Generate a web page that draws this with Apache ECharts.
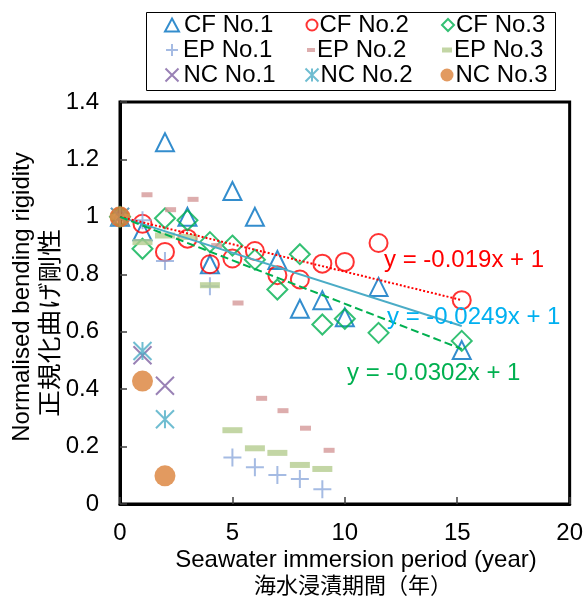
<!DOCTYPE html>
<html>
<head>
<meta charset="utf-8">
<script src="https://cdn.jsdelivr.net/npm/echarts@6/dist/echarts.min.js"></script>
<style>
html,body{margin:0;padding:0;background:#fff;}
#chart{width:586px;height:605px;}
</style>
</head>
<body>
<div id="chart"></div>
<script>
// ---------------- DATA ----------------
const seriesNames = ['CF No.1','CF No.2','CF No.3','EP No.1','EP No.2','EP No.3','NC No.1','NC No.2','NC No.3'];

const cf1X = [0, 1, 2, 3, 4, 5, 6, 7, 8, 9, 10, 11.5, 15.2];
const cf1Y = [1.0, 0.95, 1.26, 1.0, 0.835, 1.09, 1.0, 0.85, 0.68, 0.71, 0.65, 0.756, 0.536];
const cf2X = [0, 1, 2, 3, 4, 5, 6, 7, 8, 9, 10, 11.5, 15.2];
const cf2Y = [1.0, 0.976, 0.878, 0.924, 0.835, 0.855, 0.881, 0.797, 0.782, 0.837, 0.843, 0.909, 0.71];
const cf3X = [0, 1, 2, 3, 4, 5, 6, 7, 8, 9, 10, 11.5, 15.2];
const cf3Y = [1.0, 0.889, 0.995, 0.988, 0.912, 0.90, 0.851, 0.747, 0.87, 0.625, 0.645, 0.596, 0.568];

const ep1X = [0, 1, 2, 4, 5, 6, 7, 8, 9];
const ep1Y = [1.0, 0.988, 0.846, 0.758, 0.162, 0.128, 0.101, 0.087, 0.051];
const ep2X = [1.2, 2.25, 3.25, 4.3, 5.25, 6.3, 7.25, 8.25, 9.3];
const ep2Y = [1.077, 1.025, 1.061, 0.90, 0.70, 0.368, 0.325, 0.264, 0.187];
const ep3X = [0, 1, 2, 3, 4, 5, 6, 7, 8, 9];
const ep3Y = [1.0, 0.912, 0.935, 0.93, 0.762, 0.257, 0.194, 0.178, 0.136, 0.122];

const nc1X = [0, 1, 2];
const nc1Y = [1.0, 0.518, 0.412];
const nc2X = [0, 1, 2];
const nc2Y = [1.0, 0.533, 0.295];
const nc3X = [0, 1, 2];
const nc3Y = [1.0, 0.428, 0.098];

// linear trend lines (as drawn in the picture)
const trendX = [0, 15.2];
const cf1TrendY = [1.0, 0.62];
const cf2TrendY = [1.0, 0.71];
const cf3TrendY = [1.0, 0.54];
const trendLabels = ['y = -0.0249x + 1', 'y = -0.019x + 1', 'y = -0.0302x + 1'];

const xTicks = [0, 5, 10, 15, 20];
const yTicks = [0, 0.2, 0.4, 0.6, 0.8, 1, 1.2, 1.4];

const xTitle = 'Seawater immersion period (year)';
const xTitleJa = '海水浸漬期間（年）';
const yTitle = 'Normalised bending rigidity';
const yTitleJa = '正規化曲げ剛性';

// ---------------- STYLE ----------------
const FONT = "'Liberation Sans', Arial, sans-serif";
const JFONT = "'Noto Sans CJK JP', sans-serif";
const zip = (xs, ys) => xs.map((x, i) => [x, ys[i]]);
const PLUS = 'path://M0,5L10,5M5,0L5,10';
const CROSS = 'path://M0,0L10,10M10,0L0,10';
const ASTER = 'path://M0,0L10,10M10,0L0,10M5,0L5,10';
const HOLLOW = 'rgba(255,255,255,0)';

const styles = {
  'CF No.1': {symbol:'triangle', size:18, item:{color:HOLLOW, borderColor:'#0070C0', borderWidth:2}},
  'CF No.2': {symbol:'circle', size:18, item:{color:HOLLOW, borderColor:'#FF0000', borderWidth:2}},
  'CF No.3': {symbol:'diamond', size:20, item:{color:HOLLOW, borderColor:'#00B050', borderWidth:2}},
  'EP No.1': {symbol:PLUS, size:18, item:{color:'#8FAADC', borderColor:'#8FAADC', borderWidth:2}},
  'EP No.2': {symbol:'rect', size:[11,5], item:{color:'#D59898'}},
  'EP No.3': {symbol:'rect', size:[20,6], item:{color:'#B4CC8F'}},
  'NC No.1': {symbol:CROSS, size:18, item:{color:'#7F62A2', borderColor:'#7F62A2', borderWidth:2}},
  'NC No.2': {symbol:ASTER, size:18, item:{color:'#4BACC6', borderColor:'#4BACC6', borderWidth:2}},
  'NC No.3': {symbol:'circle', size:21, item:{color:'#DB8138'}}
};
const seriesData = {
  'CF No.1': zip(cf1X, cf1Y), 'CF No.2': zip(cf2X, cf2Y), 'CF No.3': zip(cf3X, cf3Y),
  'EP No.1': zip(ep1X, ep1Y), 'EP No.2': zip(ep2X, ep2Y), 'EP No.3': zip(ep3X, ep3Y),
  'NC No.1': zip(nc1X, nc1Y), 'NC No.2': zip(nc2X, nc2Y), 'NC No.3': zip(nc3X, nc3Y)
};

// legend layout: 3 columns x 3 rows
const legCols = [171, 311, 447];
const legRows = [25, 50, 75];
const legIcon = {
  'CF No.1':[14,13], 'CF No.2':[11,11], 'CF No.3':[12,12],
  'EP No.1':[12,12], 'EP No.2':[8,4], 'EP No.3':[10,5],
  'NC No.1':[13,13], 'NC No.2':[13,13], 'NC No.3':[13,13]
};

const series = seriesNames.map(n => ({
  name: n, type: 'scatter', data: seriesData[n],
  symbol: styles[n].symbol, symbolSize: styles[n].size,
  itemStyle: styles[n].item, emphasis: {disabled: true}, animation: false
}));
const trendColors = ['#4BACC6', '#FF0000', '#00B050'];
const trendTypes = ['solid', 'dotted', 'dashed'];
[cf1TrendY, cf2TrendY, cf3TrendY].forEach((ty, i) => {
  series.push({
    type: 'line', name: 'trend' + i, data: zip(trendX, ty), showSymbol: false, symbol: 'none',
    lineStyle: {color: trendColors[i], width: 2, type: trendTypes[i]},
    z: 3, animation: false, silent: true
  });
});

const legends = seriesNames.map((n, i) => {
  const col = i % 3, row = Math.floor(i / 3);
  const [w, h] = legIcon[n];
  return {
    data: [n], orient: 'vertical', padding: 0,
    left: legCols[col] - w / 2, top: legRows[row] - 12.5,
    itemWidth: w, itemHeight: h, itemGap: 0,
    textStyle: {fontFamily: FONT, fontSize: 24, color: '#000', lineHeight: 25,
                padding: col === 0 ? 0 : [0, 0, 0, -3]},
    selectedMode: false
  };
});

const labelPos = [[387, 317, '#00B0F0'], [384, 260, '#FF0000'], [347, 373, '#00B050']];
const graphics = [
  {type:'rect', shape:{x:146.5, y:12.5, width:409, height:78}, style:{fill:'none', stroke:'#000', lineWidth:1}, z:10},
  {type:'text', x:22, y:297, rotation:Math.PI/2, style:{text:yTitle, font:'24px ' + FONT, fill:'#000', align:'center', verticalAlign:'middle'}},
  {type:'text', x:49, y:323, rotation:Math.PI/2, scaleX:1.12, style:{text:yTitleJa, font:'24px ' + JFONT, fill:'#000', align:'center', verticalAlign:'middle'}},
  {type:'text', x:356, y:560, style:{text:xTitle, font:'24px ' + FONT, fill:'#000', align:'center', verticalAlign:'middle'}},
  {type:'text', x:353, y:585, style:{text:xTitleJa, font:'22px ' + JFONT, fill:'#000', align:'center', verticalAlign:'middle'}}
];
trendLabels.forEach((t, i) => {
  graphics.push({type:'text', x:labelPos[i][0], y:labelPos[i][1], z:20,
    style:{text:t, font:'24px ' + FONT, fill:labelPos[i][2], align:'left', verticalAlign:'middle'}});
});

const chart = echarts.init(document.getElementById('chart'), null, {renderer: 'canvas'});
chart.setOption({
  animation: false,
  backgroundColor: '#fff',
  grid: {left: 120, right: 16, top: 102, bottom: 101, show: true, borderColor: '#000', borderWidth: 3, backgroundColor: 'transparent'},
  legend: legends,
  xAxis: {
    type: 'value', min: xTicks[0], max: xTicks[xTicks.length - 1], interval: 5,
    axisLine: {lineStyle: {color: '#000', width: 3}},
    axisTick: {inside: true, length: 7, lineStyle: {color: '#404040', width: 1.5}},
    axisLabel: {fontFamily: FONT, fontSize: 24, color: '#000', margin: 17},
    splitLine: {show: false}
  },
  yAxis: {
    type: 'value', min: yTicks[0], max: yTicks[yTicks.length - 1], interval: 0.2,
    axisLine: {show: true, lineStyle: {color: '#000', width: 3}},
    axisTick: {show: true, inside: true, length: 7, lineStyle: {color: '#404040', width: 1.5}},
    axisLabel: {fontFamily: FONT, fontSize: 24, color: '#000', margin: 21},
    splitLine: {show: false}
  },
  graphic: graphics,
  series: series
});
</script>
</body>
</html>
